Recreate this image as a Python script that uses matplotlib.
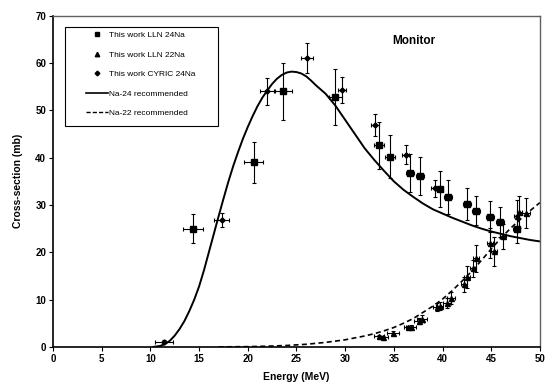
import matplotlib
matplotlib.use("Agg")
import matplotlib.pyplot as plt
from matplotlib.lines import Line2D
from matplotlib.patches import Rectangle

# LLN 24Na (squares)
lln24_e = [14.4, 20.6, 23.6, 29.0, 33.5, 34.6, 36.7, 37.7, 39.7, 40.6, 42.5, 43.4, 44.9, 45.9, 47.6]
lln24_cs = [25.0, 39.0, 54.0, 52.8, 42.6, 40.2, 36.8, 36.2, 33.3, 31.6, 30.2, 28.8, 27.5, 26.4, 24.9]
lln24_dcs = [3.0, 4.4, 6.1, 5.9, 5.0, 4.5, 4.0, 4.0, 3.8, 3.6, 3.4, 3.1, 3.3, 3.1, 3.0]
lln24_de = [1.05, 1.0, 0.9, 0.7, 0.5, 0.5, 0.4, 0.4, 0.4, 0.4, 0.4, 0.4, 0.4, 0.4, 0.4]

# LLN 22Na (triangles)
lln22_e = [33.5, 33.9, 34.9, 36.5, 36.8, 37.6, 37.9, 39.4, 39.7, 40.5, 40.9, 42.2, 42.5, 43.1, 43.4,
           44.9, 45.3, 46.2, 47.6, 47.9, 48.6]
lln22_cs = [2.2, 2.0, 2.9, 4.1, 4.2, 5.5, 6.0, 8.4, 8.6, 9.3, 10.4, 13.2, 14.8, 16.6, 18.7,
            21.9, 20.2, 23.4, 27.6, 28.5, 28.3]
lln22_dcs = [0.3, 0.3, 0.4, 0.4, 0.4, 0.6, 0.7, 0.9, 0.9, 1.0, 1.3, 1.6, 2.4, 1.8, 2.8,
             3.2, 3.0, 2.6, 3.4, 3.3, 3.2]
lln22_de = [0.5, 0.5, 0.6, 0.5, 0.5, 0.5, 0.5, 0.4, 0.4, 0.4, 0.4, 0.3, 0.3, 0.3, 0.3,
            0.3, 0.3, 0.3, 0.3, 0.3, 0.4]

# CYRIC 24Na (diamonds)
cyric_e = [11.4, 17.3, 22.0, 26.1, 29.7, 33.1, 36.2, 39.2]
cyric_cs = [1.1, 26.8, 54.0, 61.0, 54.3, 46.9, 40.6, 33.5]
cyric_dcs = [0.3, 1.4, 2.8, 3.2, 2.7, 2.3, 2.0, 1.8]
cyric_de = [0.95, 0.75, 0.75, 0.6, 0.4, 0.4, 0.4, 0.4]

# recommended curves
na24_e = [10.3, 11.0, 11.5, 12.0, 12.5, 13.0, 13.5, 14.0, 14.5, 15.0, 15.5, 16.0, 16.5, 17.0,
          17.5, 18.0, 18.5, 19.0, 19.5, 20.0, 20.5, 21.0, 21.5, 22.0, 22.5, 23.0, 23.5, 24.0,
          24.5, 25.0, 25.5, 26.0, 26.5, 27.0, 27.5, 28.0, 29.0, 30.0, 31.0, 32.0, 33.0, 34.0,
          35.0, 36.0, 37.0, 38.0, 39.0, 40.0, 41.0, 42.0, 43.0, 44.0, 45.0, 46.0, 47.0, 48.0,
          49.0, 50.0]
na24_cs = [0.0, 0.2, 0.6, 1.3, 2.4, 3.8, 5.5, 7.6, 10.0, 12.8, 16.2, 20.0, 23.8, 27.6,
           31.3, 34.9, 38.2, 41.2, 44.0, 46.5, 48.8, 50.9, 52.7, 54.2, 55.6, 56.7, 57.5, 58.0,
           58.2, 58.1, 57.8, 57.2, 56.3, 55.3, 54.4, 53.5, 51.0, 48.0, 45.0, 42.0, 39.5, 37.2,
           35.0, 33.2, 31.7, 30.3, 29.1, 28.2, 27.3, 26.5, 25.7, 25.0, 24.4, 23.9, 23.4, 23.0,
           22.6, 22.3]
na22_e = [17.0, 20.0, 22.0, 24.0, 26.0, 28.0, 30.0, 32.0, 33.0, 34.0, 35.0, 36.0, 37.0, 38.0,
          39.0, 40.0, 41.0, 42.0, 43.0, 44.0, 45.0, 46.0, 47.0, 48.0, 49.0, 50.0]
na22_cs = [0.0, 0.05, 0.15, 0.3, 0.55, 0.95, 1.5, 2.3, 2.8, 3.4, 4.1, 5.0, 6.0, 7.3,
           8.6, 10.1, 11.9, 13.9, 16.0, 18.3, 20.7, 23.0, 25.1, 27.0, 28.8, 30.5]

plt.rcParams['font.family'] = ['Liberation Sans', 'DejaVu Sans']

fig = plt.figure(figsize=(5.47, 3.85), dpi=100)
ax = fig.add_axes([0.097, 0.099, 0.890, 0.860])

eb = dict(fmt='none', ecolor='black', elinewidth=0.8, capsize=1.6, capthick=0.8, zorder=3)
ax.errorbar(lln24_e, lln24_cs, yerr=lln24_dcs, xerr=lln24_de, **eb)
ax.errorbar(lln22_e, lln22_cs, yerr=lln22_dcs, xerr=lln22_de, **eb)
ax.errorbar(cyric_e, cyric_cs, yerr=cyric_dcs, xerr=cyric_de, **eb)

ax.plot(lln24_e, lln24_cs, 's', color='black', ms=4.2, zorder=4)
ax.plot(lln22_e, lln22_cs, '^', color='black', ms=3.6, zorder=4)
ax.plot(cyric_e, cyric_cs, 'D', color='black', ms=2.6, zorder=4)

ax.plot(na24_e, na24_cs, '-', color='black', lw=1.4, zorder=2)
ax.plot(na22_e, na22_cs, '--', color='black', lw=1.2, dashes=(3, 2), zorder=2)

ax.set_xlim(0, 50)
ax.set_ylim(0, 70)
ax.set_xticks(range(0, 51, 5))
ax.set_yticks(range(0, 71, 10))
ax.tick_params(direction='out', length=3, width=0.8, labelsize=7, pad=2)
for lab in ax.get_xticklabels() + ax.get_yticklabels():
    lab.set_fontweight('bold')
for s in ['left', 'bottom']:
    ax.spines[s].set_linewidth(1.2)
    ax.spines[s].set_color('black')
for s in ['top', 'right']:
    ax.spines[s].set_linewidth(1.0)
    ax.spines[s].set_color('#606060')

ax.set_xlabel('Energy (MeV)', fontsize=7.5, fontweight='bold', labelpad=6)
ax.set_ylabel('Cross-section (mb)', fontsize=7.5, fontweight='bold', labelpad=9)
ax.text(37.0, 64.7, 'Monitor', fontsize=8.5, fontweight='bold', ha='center', va='center')

# legend: Excel-style box drawn separately
ax.add_patch(Rectangle((0.0246, 0.668), 0.3135, 0.297, transform=ax.transAxes,
                       facecolor='white', edgecolor='black', lw=0.8, zorder=5))
handles = [
    Line2D([], [], marker='s', color='black', ls='none', ms=3.2),
    Line2D([], [], marker='^', color='black', ls='none', ms=3.2),
    Line2D([], [], marker='D', color='black', ls='none', ms=2.4),
    Line2D([], [], color='black', lw=1.2),
    Line2D([], [], color='black', lw=1.0, ls='--', dashes=(3, 1.5)),
]
labels = ['This work LLN 24Na', 'This work LLN 22Na', 'This work CYRIC 24Na',
          'Na-24 recommended', 'Na-22 recommended']
leg = ax.legend(handles, labels, loc='upper left', bbox_to_anchor=(0.0678, 0.953),
                fontsize=6, frameon=False, handlelength=2.6, handletextpad=0.1,
                labelspacing=1.4, borderpad=0, borderaxespad=0)
leg.set_zorder(6)

fig.savefig('out.png', dpi=100)
